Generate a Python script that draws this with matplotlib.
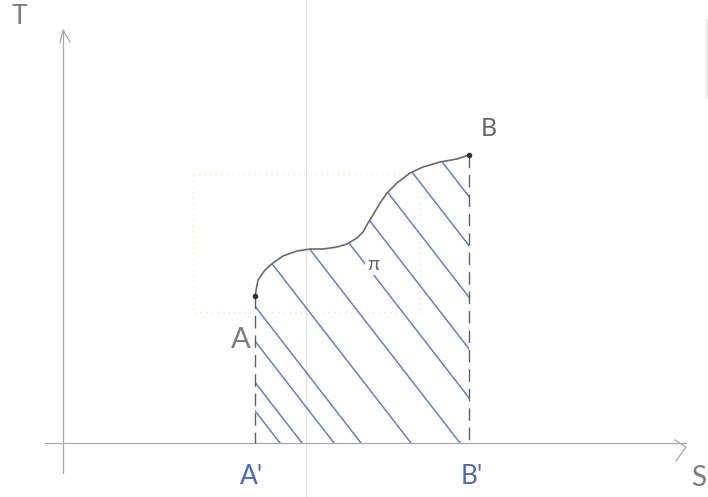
import matplotlib.pyplot as plt
from matplotlib.patches import Polygon

# process curve A -> B on the T-S plane
curve_s = [192, 195, 202, 210, 220, 234, 247, 260, 274, 284, 294, 300,
           305, 310, 317, 324, 334, 347, 360, 377, 394, 406]
curve_t = [147, 163, 173, 180, 187, 192, 194, 194, 196, 199, 205, 211,
           220, 228, 240, 250, 260, 270, 276, 281, 284, 288]

# where each hatch stroke would meet the S axis
hatch_s0 = [217, 239, 271, 298, 348, 397, 441, 479, 519, 559, 597]

point_names = ["A", "B"]
foot_names = ["A'", "B'"]

grey = "#7c7c7c"
ink = "#5f5f5f"
blue = "#4f66c0"

plt.rcParams["font.family"] = ["Lato", "DejaVu Sans"]


def draw_axes(ax):
    # T axis with a hand-drawn arrow tip
    ax.plot([0, 0], [-30, 413], color="#a8a8a8", lw=0.9)
    ax.plot([-3, 0, 7], [400, 413, 401], color="#a8a8a8", lw=0.9)
    ax.text(-44, 426, "T", fontsize=19, color=grey, ha="center", va="center")

    # S axis
    ax.plot([-18, 623], [0, 0], color="#a8a8a8", lw=0.9)
    ax.plot([612, 623, 613], [3, -4, -18], color="#a8a8a8", lw=0.9)
    ax.text(636, -35, "S", fontsize=20, color=grey, ha="center", va="center")


def draw_background(ax):
    # faint guide lines left on the sheet
    ax.plot([243, 243], [-54, 443], color="#e2e2e2", lw=0.9)
    ax.plot([130, 357, 357, 130, 130], [269, 269, 131, 131, 269],
            color="#f5f0c8", lw=1.0, ls=(0, (1, 3)))
    ax.plot([644, 644], [345, 423], color="#e6e6e6", lw=1.2)


def draw_area(ax):
    s_a, s_b = curve_s[0], curve_s[-1]
    region = Polygon(list(zip(curve_s, curve_t)) + [(s_b, 0), (s_a, 0)],
                     closed=True, facecolor="none", edgecolor="none")
    ax.add_patch(region)

    slope = -1.29
    for s0 in hatch_s0:
        top = 300
        line, = ax.plot([s0 + top / slope, s0], [top, 0], color=blue, lw=1.1, alpha=0.85)
        line.set_clip_path(region)

    # dashed drops to the S axis
    ax.plot([s_a, s_a], [curve_t[0], 0], color=ink, lw=1.0, ls=(0, (9, 5)))
    ax.plot([s_b, s_b], [curve_t[-1], 0], color=ink, lw=1.0, ls=(0, (9, 5)))

    ax.plot(curve_s, curve_t, color="#6a6a6a", lw=1.2, solid_capstyle="round")
    ax.plot([s_a, s_b], [curve_t[0], curve_t[-1]], "o", color="#333333", ms=3)

    ax.text(s_a - 14, curve_t[0] - 44, point_names[0], fontsize=21, color=grey,
            ha="center", va="center")
    ax.text(s_b + 20, curve_t[-1] + 26, point_names[1], fontsize=18, color="#666666",
            ha="center", va="center")
    ax.text(s_a - 4, -34, foot_names[0], fontsize=19, color=blue, ha="center", va="center")
    ax.text(s_b + 3, -34, foot_names[1], fontsize=19, color=blue, ha="center", va="center")
    ax.text(310, 179, "π", fontsize=14, color="#666666", ha="center", va="center",
            bbox=dict(facecolor="white", edgecolor="none", pad=1.5))


def main():
    fig = plt.figure(figsize=(7.08, 4.97), dpi=100)
    ax = fig.add_axes([0, 0, 1, 1])
    ax.set_xlim(-63, 645)
    ax.set_ylim(-54, 443)
    ax.axis("off")

    draw_background(ax)
    draw_axes(ax)
    draw_area(ax)

    fig.savefig("out.png", dpi=100, facecolor="white")


if __name__ == "__main__":
    main()
